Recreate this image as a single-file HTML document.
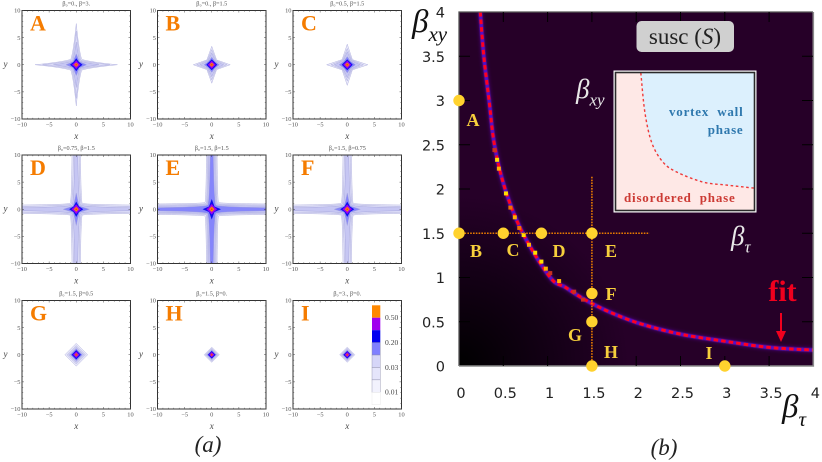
<!DOCTYPE html>
<html lang="en">
<head>
<meta charset="utf-8">
<title>Susceptibility phase diagram</title>
<style>
html,body{margin:0;padding:0;background:#fff;width:822px;height:462px;overflow:hidden}
svg{display:block}
text{font-family:"Liberation Serif",serif}
.dj{font-family:"DejaVu Sans",sans-serif}
</style>
</head>
<body>
<svg id="figure" xmlns="http://www.w3.org/2000/svg" width="822" height="462" viewBox="0 0 822 462">
<defs>
<filter id="glow" x="-20%" y="-20%" width="140%" height="140%"><feGaussianBlur stdDeviation="1.8"/></filter>
<filter id="soft" x="-20%" y="-20%" width="140%" height="140%"><feGaussianBlur stdDeviation="0.6"/></filter>
<filter id="pblur" x="-10%" y="-10%" width="120%" height="120%"><feGaussianBlur stdDeviation="0.3"/></filter>
<radialGradient id="bgGrad" gradientUnits="userSpaceOnUse" cx="459" cy="366" r="170">
<stop offset="0" stop-color="#000000"/><stop offset="0.55" stop-color="#140016"/><stop offset="1" stop-color="#260028"/>
</radialGradient>
<clipPath id="mainClip"><rect x="459" y="12" width="354" height="354"/></clipPath>
<clipPath id="insetClip"><rect x="616" y="73" width="138" height="137"/></clipPath>
</defs>
</svg>
<script>
// ---- small panel data ----
const panelLetters = ['A','B','C','D','E','F','G','H','I'];
const panelBetaTau = ['0.','0.','0.5','0.75','1.5','1.5','1.5','1.5','3.'];
const panelBetaXY = ['3.','1.5','1.5','1.5','1.5','0.75','0.5','0.','0.'];
// contour reach per level along x / y, outermost level first
const reachX = [
 [7.6,6.2,4.2,1.9,1.15,0.8,0.4],[3.4,2.8,2.2,1.4,1.0,0.75,0.4],[3.8,3.0,2.4,1.5,1.0,0.75,0.4],
 [14,14,14,2.4,1.3,0.9,0.45],[14,14,14,14,1.7,1.0,0.5],[14,14,14,2.4,1.3,0.9,0.45],
 [2.1,1.7,1.4,1.1,0.85,0.6,0.3],[1.4,1.2,1.0,0.85,0.7,0.5,0.25],[1.4,1.2,1.0,0.85,0.7,0.5,0.25]];
const reachY = [
 [7.6,6.2,4.2,2.0,1.2,0.8,0.4],[3.4,2.8,2.2,1.4,1.0,0.75,0.4],[3.8,3.0,2.4,1.5,1.0,0.75,0.4],
 [14,14,14,3.0,1.4,0.9,0.45],[14,14,14,14,1.9,1.0,0.5],[14,14,14,3.0,1.4,0.9,0.45],
 [2.1,1.7,1.4,1.1,0.85,0.6,0.3],[1.4,1.2,1.0,0.85,0.7,0.5,0.25],[1.4,1.2,1.0,0.85,0.7,0.5,0.25]];
// half-width of each contour's arm where it runs off to the frame
const armWidth = [
 [0,0,0,0,0,0,0],[0,0,0,0,0,0,0],[0,0,0,0,0,0,0],
 [0.75,0.5,0.22,0,0,0,0],[0.95,0.75,0.55,0.25,0,0,0],[0.75,0.5,0.22,0,0,0,0],
 [0,0,0,0,0,0,0],[0,0,0,0,0,0,0],[0,0,0,0,0,0,0]];
// diagonal extent of each contour beyond its arm
const waist = [
 [1.0,0.85,0.7,0.58,0.5,0.38,0.2],[0.9,0.8,0.7,0.6,0.5,0.37,0.2],[0.95,0.85,0.75,0.62,0.5,0.37,0.2],
 [0.35,0.45,0.55,0.58,0.5,0.42,0.22],[0.3,0.3,0.35,0.5,0.5,0.45,0.25],[0.35,0.45,0.55,0.58,0.5,0.42,0.22],
 [1.05,0.85,0.7,0.55,0.42,0.3,0.15],[0.7,0.6,0.5,0.42,0.35,0.25,0.12],[0.7,0.6,0.5,0.42,0.35,0.25,0.12]];
const levelColors = ['#ebebfa','#dcdcf7','#c6c6f3','#8585fb','#0808ee','#a000ee','#ff8a00'];
const panelTicks = [-10,-5,0,5,10];
// ---- colour key ----
const keyColors = ['#ff8800','#a000ee','#0000f0','#8080ff','#d6d6f8','#e5e5fb','#f2f2fd','#ffffff'];
const keyLabels = ['0.50','0.20','0.03','0.01'];
const keyLabelBands = [1,3,5,7];
// ---- phase diagram data ----
const fitTau = [0.24,0.28,0.34,0.40,0.52,0.72,1.03,1.20,1.42,1.70,2.04,2.50,3.00,3.50,4.00];
const fitXY  = [4.00,3.50,3.00,2.50,2.00,1.50,1.00,0.89,0.75,0.61,0.48,0.36,0.28,0.21,0.18];
const hotTau = [0.40,0.43,0.45,0.53,0.58,0.63,0.68,0.73,0.79,0.86,0.93,0.98,1.03,1.13,1.30,1.40];
const hotXY  = [2.44,2.33,2.23,1.95,1.79,1.68,1.56,1.48,1.37,1.28,1.18,1.10,1.05,0.96,0.84,0.75];
const hotVal = [0.5,1,0.8,1,0.55,0.8,0.7,1,0.9,1,1,0.9,0.5,0.75,0.5,0.5];
const mainTicks = [0,0.5,1,1.5,2,2.5,3,3.5,4];
const mainTickLabels = ['0','0.5','1','1.5','2','2.5','3','3.5','4'];
const pointTau = [0,0,0.5,0.93,1.5,1.5,1.5,1.5,3];
const pointXY = [3,1.5,1.5,1.5,1.5,0.82,0.5,0,0];
const crossTau = [0,2.15];
const crossXY = [0,2.15];
// inset phase boundary, in the inset's own unit box
const insetTau = [0.18,0.21,0.26,0.34,0.44,0.63,0.80,1.00];
const insetXY  = [1.00,0.708,0.489,0.35,0.277,0.204,0.182,0.16];

const NS = 'http://www.w3.org/2000/svg';
const svg = document.getElementById('figure');
function make(tag, attrs, parent, txt){
  const el = document.createElementNS(NS, tag);
  for (const k in attrs) el.setAttribute(k, attrs[k]);
  if (txt !== undefined) el.textContent = txt;
  (parent || svg).appendChild(el);
  return el;
}
function smooth(pts){
  let d = 'M' + pts[0][0].toFixed(2) + ' ' + pts[0][1].toFixed(2);
  for (let i = 0; i < pts.length - 1; i++){
    const p0 = pts[Math.max(i-1,0)], p1 = pts[i], p2 = pts[i+1], p3 = pts[Math.min(i+2,pts.length-1)];
    d += 'C' + (p1[0]+(p2[0]-p0[0])/6).toFixed(2) + ' ' + (p1[1]+(p2[1]-p0[1])/6).toFixed(2) + ' ' +
         (p2[0]-(p3[0]-p1[0])/6).toFixed(2) + ' ' + (p2[1]-(p3[1]-p1[1])/6).toFixed(2) + ' ' +
         p2[0].toFixed(2) + ' ' + p2[1].toFixed(2);
  }
  return d;
}
// one contour: four arms meeting at diagonal waist points
function contourPath(rx, ry, a, w, sx, sy){
  const P = a + w;
  const cxX = Math.min(a + 2.5 * w, (rx + P) / 2), cyX = a + 0.5 * w * (a > 0 ? 0.4 : 1);
  const cxY = Math.min(a + 2.5 * w, (ry + P) / 2);
  const pt = (x, y) => sx(x).toFixed(2) + ' ' + sy(y).toFixed(2);
  let d = 'M' + pt(rx, a);
  [[1,1],[-1,1],[-1,-1],[1,-1]].forEach(function(q, k){
    const qx = q[0], qy = q[1];
    if (k % 2 === 0){
      if (k > 0) d += 'L' + pt(qx*rx, qy*a);
      d += 'Q' + pt(qx*cxX, qy*cyX) + ' ' + pt(qx*P, qy*P);
      d += 'Q' + pt(qx*cyX, qy*cxY) + ' ' + pt(qx*a, qy*ry);
    } else {
      d += 'L' + pt(qx*a, qy*ry);
      d += 'Q' + pt(qx*cyX, qy*cxY) + ' ' + pt(qx*P, qy*P);
      d += 'Q' + pt(qx*cxX, qy*cyX) + ' ' + pt(qx*rx, qy*a);
    }
  });
  return d + 'Z';
}

// ================= small panels =================
const colX = [22, 157.5, 293], rowY = [10.5, 155, 300.5], PW = 108.5;
panelLetters.forEach(function(letter, i){
  const px = colX[i % 3], py = rowY[Math.floor(i / 3)];
  const sx = v => px + (v + 10) / 20 * PW;
  const sy = v => py + PW - (v + 10) / 20 * PW;
  const g = make('g', {}, svg);
  
  
  const clipId = 'pc' + i;
  const defs = make('clipPath', {id: clipId}, g);
  make('rect', {x: px, y: py, width: PW, height: PW}, defs);
  const bg = make('rect', {x: px, y: py, width: PW, height: PW, fill: '#fff'}, g);
  
  
  const cg = make('g', {'clip-path': 'url(#' + clipId + ')', filter: 'url(#pblur)'}, g);
  levelColors.forEach(function(col, l){
    const d = contourPath(reachX[i][l], reachY[i][l], armWidth[i][l], waist[i][l], sx, sy);
    const c = make('path', {d: d, fill: col, stroke: l < 4 ? '#a0a0d8' : 'none', 'stroke-width': 0.4}, cg);
    
    
  });
  const core = make('circle', {cx: sx(0), cy: sy(0), r: 0.9, fill: '#f03030'}, cg);
  
  
  const frame = make('rect', {x: px, y: py, width: PW, height: PW, fill: 'none', stroke: '#333', 'stroke-width': 1}, g);
  
  
  // minor ticks
  let tickD = '';
  for (let v = -10; v <= 10; v += 1){
    const len = v % 5 === 0 ? 2 : 1.2;
    tickD += 'M' + sx(v) + ' ' + (py+PW) + 'v' + (-len) + 'M' + sx(v) + ' ' + py + 'v' + len +
             'M' + px + ' ' + sy(v) + 'h' + len + 'M' + (px+PW) + ' ' + sy(v) + 'h' + (-len);
  }
  const tk = make('path', {d: tickD, stroke: '#444', 'stroke-width': 0.5, fill: 'none'}, g);
  
  
  panelTicks.forEach(function(t){
    const lx = make('text', {x: sx(t), y: py + PW + 7.5, 'font-size': 6.4, 'text-anchor': 'middle', fill: '#555'}, g, t < 0 ? '\u2212' + (-t) : String(t));
    
    
    const ly = make('text', {x: px - 1.5, y: sy(t) + 2.2, 'font-size': 6.4, 'text-anchor': 'end', fill: '#555'}, g, t < 0 ? '\u2212' + (-t) : String(t));
    
    
  });
  const xl = make('text', {x: px + PW/2, y: py + PW + 20, 'font-size': 9, 'font-style': 'italic', 'text-anchor': 'middle', fill: '#444'}, g, 'x');
  
  
  const yl = make('text', {x: px - 16.5, y: py + PW/2 + 2, 'font-size': 9, 'font-style': 'italic', 'text-anchor': 'middle', fill: '#444'}, g, 'y');
  
  
  const tt = make('text', {x: px + PW/2, y: py - 5, 'font-size': 6.2, 'text-anchor': 'middle', fill: '#555', 'xml:space': 'preserve'}, g,
    '\u03b2\u2080=' + panelBetaTau[i] + ',    \u03b2=' + panelBetaXY[i]);
  
  
  const lb = make('text', {x: px + 8, y: py + 20, 'font-size': 22, 'font-weight': 'bold', fill: '#f57c00'}, g, letter);
  
  
});

// ================= colour key =================
const KX = 372, KY = 305.3, KW = 8.3, KB = 12.43;
const keyG = make('g', {});


keyColors.forEach(function(c, i){
  const r = make('rect', {x: KX, y: KY + i * KB, width: KW, height: KB, fill: c, stroke: i < 7 ? '#8a8aa8' : '#e4e4e4', 'stroke-width': i < 3 ? 0 : 0.4}, keyG);
  
  
});
keyLabels.forEach(function(t, i){
  const y = KY + keyLabelBands[i] * KB + 2.3;
  const l = make('text', {x: 385, y: y, 'font-size': 7.6, fill: '#444'}, keyG, t);
  
  
});

// ================= phase diagram =================
const X0 = 459, XS = 88.6, Y0 = 366, YS = 88.5;
const mx = v => X0 + v * XS;
const my = v => Y0 - v * YS;
const mainG = make('g', {});


const heat = make('rect', {x: 459, y: 12, width: 354, height: 354, fill: '#260028'}, mainG);


const heatDark = make('rect', {x: 459, y: 196, width: 170, height: 170, fill: 'url(#bgGrad)'}, mainG);


const ridgeG = make('g', {'clip-path': 'url(#mainClip)'}, mainG);
const fitPts = fitTau.map((t, i) => [mx(t), my(fitXY[i])]);
const fitPath = smooth(fitPts);
const ridgeGlow = make('path', {d: fitPath, fill: 'none', stroke: '#4a0a78', 'stroke-width': 5, 'stroke-opacity': 0.8, filter: 'url(#glow)'}, ridgeG);


const ridge = make('path', {d: fitPath, fill: 'none', stroke: '#5a10c8', 'stroke-width': 3.6, filter: 'url(#soft)'}, ridgeG);


function heatColor(v){
  if (v > 0.9) return '#ffe000';
  if (v > 0.7) return '#ffb000';
  if (v > 0.5) return '#f07000';
  return '#c83020';
}
const fitLine = make('path', {d: fitPath, fill: 'none', stroke: '#ff0020', 'stroke-width': 3, 'stroke-dasharray': '4.6 3'}, ridgeG);


hotTau.forEach(function(t, i){
  const c = make('rect', {x: mx(t) - 2, y: my(hotXY[i]) - 2, width: 4, height: 4, fill: heatColor(hotVal[i])}, ridgeG);
  
  
});
// frame and ticks
const fr1 = make('path', {d: 'M459 366V12H813', fill: 'none', stroke: '#555', 'stroke-width': 1.3}, mainG);


const fr2 = make('path', {d: 'M813.3 12V366H459', fill: 'none', stroke: '#8a8a8a', 'stroke-width': 1.6}, mainG);


mainTicks.forEach(function(t, i){
  if (i > 0 && i < mainTicks.length - 1){
    const a = make('path', {d: 'M' + mx(t) + ' 12v10M' + mx(t) + ' 366v-10M459 ' + my(t) + 'h11M813 ' + my(t) + 'h-11', stroke: '#000', 'stroke-width': 1, fill: 'none'}, mainG);
    
    
  }
  const lx = make('text', {x: mx(t) + 2, y: 398, 'font-size': 14.5, 'text-anchor': 'middle', fill: '#222', 'class': 'dj'}, mainG, mainTickLabels[i]);
  
  
  const ly = make('text', {x: 445, y: my(t) + 5.5, 'font-size': 14.5, 'text-anchor': 'end', fill: '#222', 'class': 'dj'}, mainG, mainTickLabels[i]);
  
  
});
// dotted cross lines
const hLine = make('line', {x1: mx(crossTau[0]), x2: mx(crossTau[1]), y1: my(1.5), y2: my(1.5), stroke: '#e87b00', 'stroke-width': 1.6, 'stroke-dasharray': '1.6 1.2'}, mainG);


const vLine = make('line', {x1: mx(1.5), x2: mx(1.5), y1: my(crossXY[0]), y2: my(crossXY[1]), stroke: '#e87b00', 'stroke-width': 1.6, 'stroke-dasharray': '1.6 1.2'}, mainG);


pointTau.forEach(function(t, i){
  const p = make('circle', {cx: mx(t), cy: my(pointXY[i]), r: 5.7, fill: '#ffd22e'}, mainG);
  
  
});
const pointLabelX = [473,476,513,559,611,611,575,611,709];
const pointLabelY = [126,257,256,257,257,300,341,358,359];
panelLetters.forEach(function(l, i){
  const t = make('text', {x: pointLabelX[i], y: pointLabelY[i], 'font-size': 18, 'font-weight': 'bold', 'text-anchor': 'middle', fill: '#f7cf3c'}, mainG, l);
  
  
});

// title chip
const chip = make('rect', {x: 636.5, y: 21, width: 97.5, height: 31, rx: 5, fill: '#d0d0d0'}, mainG);


const chipT = make('text', {x: 685, y: 44, 'font-size': 23, 'text-anchor': 'middle', fill: '#222'}, mainG);


make('tspan', {}, chipT, 'susc (');
make('tspan', {'font-style': 'italic'}, chipT, 'S');
make('tspan', {}, chipT, ')');

// inset
const insetOuter = make('rect', {x: 613.5, y: 70.5, width: 143, height: 142, fill: '#fff'}, mainG);


const insetBg = make('rect', {x: 615.5, y: 72.5, width: 139, height: 138, fill: '#fee8e6'}, mainG);


const ix = v => 616 + v * 138;
const iy = v => 210 - v * 137;
const insetPts = insetTau.map((t, i) => [ix(t), iy(insetXY[i])]);
const insetCurve = smooth(insetPts);
const wall = make('path', {d: insetCurve + 'L' + ix(1) + ' ' + iy(1) + 'Z', fill: '#dcf0fd', 'clip-path': 'url(#insetClip)'}, mainG);


const insetLine = make('path', {d: insetCurve, fill: 'none', stroke: '#ee3a3a', 'stroke-width': 1.4, 'stroke-dasharray': '2.6 2.6', 'clip-path': 'url(#insetClip)'}, mainG);


const insetFrame = make('rect', {x: 615.5, y: 72.5, width: 139, height: 138, fill: 'none', stroke: '#2a2a2a', 'stroke-width': 1.6}, mainG);


const insetStyle = {'font-size': 13, 'font-weight': 'bold', 'letter-spacing': 0.8, 'word-spacing': 4};
function insetText(str, x, y, anchor, fill, name){
  const t = make('text', Object.assign({x: x, y: y, 'text-anchor': anchor, fill: fill}, insetStyle), mainG, str);
  
  
}
insetText('vortex wall', 743.5, 116, 'end', '#2e78ae', 'vortex-wall-label');
insetText('phase', 743.5, 134, 'end', '#2e78ae', 'vortex-wall-label-line2');
insetText('disordered phase', 624, 202, 'start', '#cc3a34', 'disordered-phase-label');

// beta labels
function betaLabel(x, y, size, subSize, sub, fill, name){
  const t = make('text', {x: x, y: y, 'font-size': size, 'font-style': 'italic', fill: fill}, mainG);
  
  
  make('tspan', {}, t, '\u03b2');
  make('tspan', {'font-size': subSize, dy: size * 0.28}, t, sub);
}
betaLabel(412, 32, 33, 21, 'xy', '#111', 'y-axis-title');
betaLabel(782, 417, 33, 21, '\u03c4', '#111', 'x-axis-title');
betaLabel(576, 98, 27, 17, 'xy', '#e8e8e8', 'inset-y-axis-title');
betaLabel(731, 245, 27, 17, '\u03c4', '#e8e8e8', 'inset-x-axis-title');

// fit annotation
const fitT = make('text', {x: 782.5, y: 301, 'font-size': 30, 'font-weight': 'bold', 'text-anchor': 'middle', fill: '#f0001e'}, mainG, 'fit');


const fitArrow = make('path', {d: 'M780 313h2v18h4l-5 11l-5 -11h4z', fill: '#f0001e'}, mainG);



// captions
const capA = make('text', {x: 208, y: 452, 'font-size': 23, 'font-style': 'italic', 'text-anchor': 'middle', fill: '#222'}, svg, '(a)');


const capB = make('text', {x: 664, y: 455, 'font-size': 23, 'font-style': 'italic', 'text-anchor': 'middle', fill: '#222'}, svg, '(b)');


</script>
</body>
</html>
